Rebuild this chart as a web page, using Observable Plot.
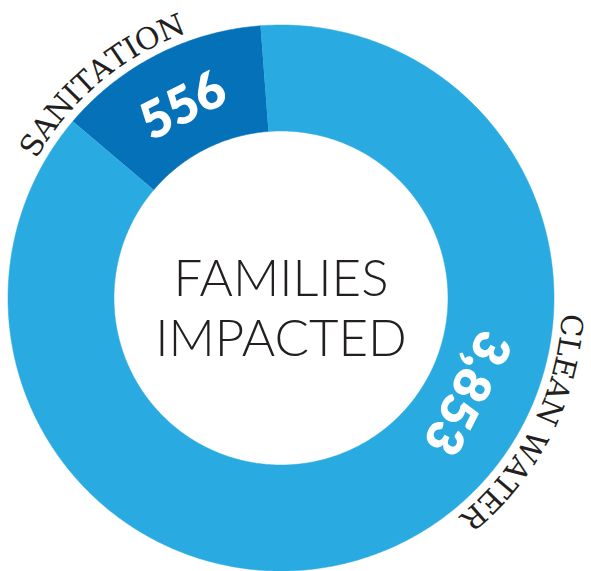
<!DOCTYPE html>
<html><head><meta charset="utf-8">
<script src="https://cdn.jsdelivr.net/npm/d3@7"></script>
<script src="https://cdn.jsdelivr.net/npm/@observablehq/plot@0.6"></script>
<style>html,body{margin:0;padding:0;background:#fff;overflow:hidden}</style>
</head><body><div id="chart"></div>
<script>
const categories = ["SANITATION", "CLEAN WATER"];
const values = [556, 3853];
const valueLabels = ["556", "3,853"];
const centerTitle = ["FAMILIES", "IMPACTED"];
const colors = ["#0571b9", "#29aae1"];

const W = 591, H = 571;
const cx = 280.5, cy = 297.5;          // ring centre in pixels
const R0 = 167, R1 = 273;              // inner / outer radius
const deg = Math.PI / 180;
const start = -49.7 * deg;

const rows = categories.map((c, i) => ({category: c, value: values[i], label: valueLabels[i]}));
const arcs = d3.pie().sort(null).value(d => d.value).startAngle(start).endAngle(start + 2 * Math.PI)(rows);

// ring polygons
const ring = [];
arcs.forEach(a => {
  const n = Math.max(2, Math.ceil((a.endAngle - a.startAngle) / (0.5 * deg)));
  for (let k = 0; k <= n; k++) {
    const t = a.startAngle + (a.endAngle - a.startAngle) * k / n;
    ring.push({category: a.data.category, x: R1 * Math.sin(t), y: R1 * Math.cos(t)});
  }
  for (let k = n; k >= 0; k--) {
    const t = a.startAngle + (a.endAngle - a.startAngle) * k / n;
    ring.push({category: a.data.category, x: R0 * Math.sin(t), y: R0 * Math.cos(t)});
  }
});

// value labels (inside ring, rotated along the tangent)
const valueAngle = {"SANITATION": null, "CLEAN WATER": 117};
const valueRadius = {"SANITATION": 215, "CLEAN WATER": 208};
const valuePts = arcs.map(a => {
  const ang = valueAngle[a.data.category] != null ? valueAngle[a.data.category] * deg : (a.startAngle + a.endAngle) / 2;
  const r = valueRadius[a.data.category];
  return {text: a.data.label, x: r * Math.sin(ang), y: r * Math.cos(ang), rot: ang / deg};
});

// curved category labels outside the ring
const outerFont = "'DejaVu Serif'";
const outerSize = 30;
const outerCenter = {"SANITATION": -40, "CLEAN WATER": 117};
const outerR = 291;
const track = 0.3;
const ctx = document.createElement("canvas").getContext("2d");
ctx.font = `${outerSize}px ${outerFont}`;
const letters = [];
categories.forEach(c => {
  const chars = [...c];
  const widths = chars.map(ch => ctx.measureText(ch).width + track);
  const total = d3.sum(widths);
  let s = -total / 2;
  chars.forEach((ch, i) => {
    const mid = s + widths[i] / 2;
    s += widths[i];
    const ang = outerCenter[c] * deg + mid / outerR;
    letters.push({ch, x: outerR * Math.sin(ang), y: outerR * Math.cos(ang), rot: ang / deg});
  });
});

const titleRows = centerTitle.map((t, i) => ({text: t, x: 0, y: 2.5 - i * 60}));

const chart = Plot.plot({
  width: W, height: H, margin: 0,
  x: {domain: [-cx, W - cx], axis: null},
  y: {domain: [cy - H, cy], axis: null},
  color: {domain: categories, range: colors},
  marks: [
    Plot.line(ring, {x: "x", y: "y", z: "category", fill: "category", stroke: "category", strokeWidth: 0.5, curve: "linear"}),
    Plot.text(valuePts, {x: "x", y: "y", text: "text", rotate: "rot", fill: "white", fontSize: 51, fontWeight: 800, fontFamily: "Lato", lineAnchor: "middle", textAnchor: "middle"}),
    Plot.text(letters, {x: "x", y: "y", text: "ch", rotate: "rot", fill: "#231f20", fontSize: outerSize, fontFamily: outerFont, lineAnchor: "middle", textAnchor: "middle"}),
    Plot.text(titleRows, {x: "x", y: "y", text: "text", fill: "#231f20", fontSize: 51, fontWeight: 300, fontFamily: "Lato", lineAnchor: "bottom", textAnchor: "middle"})
  ]
});
document.getElementById("chart").appendChild(chart);
</script>
</body></html>
